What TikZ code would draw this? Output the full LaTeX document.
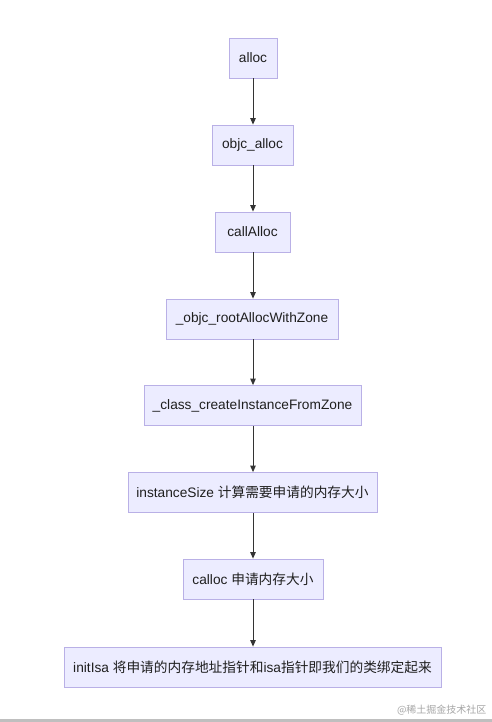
\documentclass[tikz,border=0pt]{standalone}
\usepackage{fontspec}
\setmainfont{Liberation Sans}
\newfontfamily\cjk{Noto Sans CJK SC}
\usetikzlibrary{arrows.meta}
\definecolor{boxfill}{HTML}{ECECFF}
\definecolor{boxline}{HTML}{B9B0E6}
\definecolor{arr}{HTML}{333333}
\tikzset{
  flowbox/.style={draw=boxline, fill=boxfill, line width=0.8pt, minimum height=40pt,
    inner sep=0pt, font=\fontsize{13.7}{16}\selectfont, text=black!88},
  flowarrow/.style={draw=arr, line width=0.9pt, -{Triangle[length=6.5pt,width=5.5pt]}}
}
\begin{document}
\begin{tikzpicture}[x=1pt,y=-1pt]
\useasboundingbox (0,0) rectangle (492,722);
\fill[white] (0,0) rectangle (492,722);
\node[flowbox, minimum width=48pt]  (n1) at (253,58) {alloc};
\node[flowbox, minimum width=81pt]  (n2) at (252.5,145) {objc\_alloc};
\node[flowbox, minimum width=75pt]  (n3) at (252.5,232) {callAlloc};
\node[flowbox, minimum width=172pt] (n4) at (252,319) {\_objc\_rootAllocWithZone};
\node[flowbox, minimum width=217pt] (n5) at (252.5,405.5) {\_class\_createInstanceFromZone};
\node[flowbox, minimum width=249pt] (n6) at (252.5,492.5) {instanceSize {\cjk 计算需要申请的内存大小}};
\node[flowbox, minimum width=140pt] (n7) at (253,579) {calloc {\cjk 申请内存大小}};
\node[flowbox, minimum width=377pt] (n8) at (252.5,667) {initIsa {\cjk 将申请的内存地址指针和}isa{\cjk 指针即我们的类绑定起来}};
\foreach \a/\b in {n1/n2,n2/n3,n3/n4,n4/n5,n5/n6,n6/n7,n7/n8}
  \draw[flowarrow] (\a.south -| 253,0) -- (\b.north -| 253,0);
\node[anchor=east, font=\cjk\fontsize{10}{11}\selectfont, text=black!35] (wm) at (490,710) {@稀土掘金技术社区};
\fill[black!25] (0,719) rectangle (492,722);
\end{tikzpicture}
\end{document}
